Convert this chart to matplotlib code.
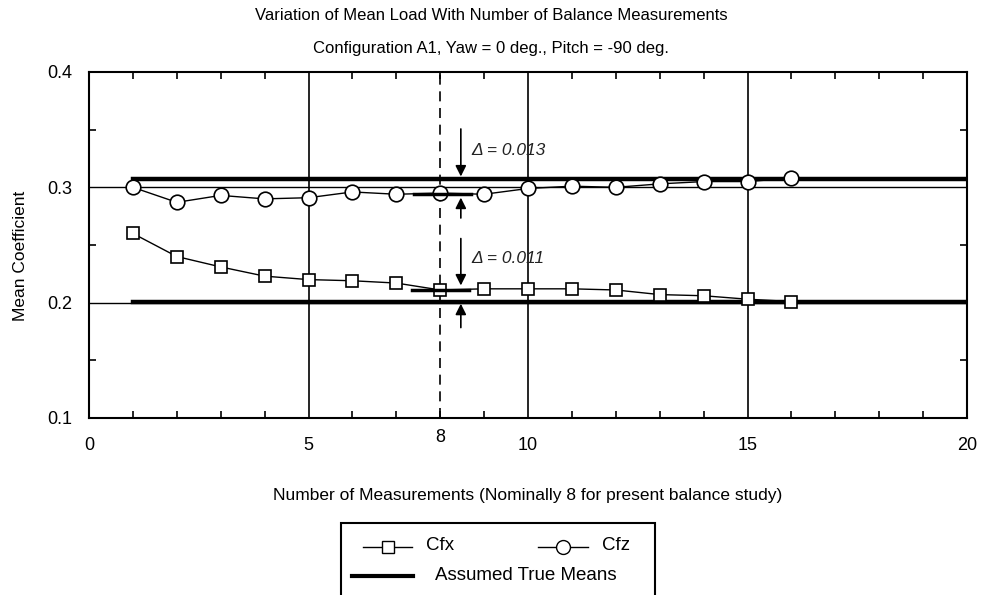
import matplotlib.pyplot as plt
from matplotlib.lines import Line2D
from matplotlib.patches import Rectangle
from matplotlib.ticker import MultipleLocator

# Datos
n_meas = [1, 2, 3, 4, 5, 6, 7, 8, 9, 10, 11, 12, 13, 14, 15, 16]
cfx = [0.260, 0.240, 0.231, 0.223, 0.220, 0.219, 0.217, 0.211,
       0.212, 0.212, 0.212, 0.211, 0.207, 0.206, 0.203, 0.201]
cfz = [0.300, 0.287, 0.293, 0.290, 0.291, 0.296, 0.294, 0.295,
       0.294, 0.299, 0.301, 0.300, 0.303, 0.305, 0.305, 0.308]
true_cfz = 0.307
true_cfx = 0.201
true_x = [1, 20]
nominal_n = 8
x_ticks = [0, 5, 10, 15, 20]
y_ticks = [0.1, 0.2, 0.3, 0.4]

plt.rcParams['font.family'] = ['Liberation Sans', 'DejaVu Sans']

W, H = 982, 595
fig = plt.figure(figsize=(W / 100, H / 100), dpi=100)
ax = fig.add_axes([89 / W, 1 - 418 / H, (967 - 89) / W, (418 - 72) / H])

# lineas de referencia (grid manual)
for xv in [5, 10, 15]:
    ax.axvline(xv, color='black', lw=1.2, zorder=1)
ax.axvline(nominal_n, color='black', lw=1.2, ls=(0, (6, 4)), zorder=1)
for yv in [0.2, 0.3]:
    ax.axhline(yv, color='black', lw=1.0, zorder=1)

# medias verdaderas
ax.plot(true_x, [true_cfz, true_cfz], color='black', lw=3.2, zorder=2)
ax.plot(true_x, [true_cfx, true_cfx], color='black', lw=3.2, zorder=2)

ax.plot(n_meas, cfx, color='black', lw=1.0, marker='s', markersize=8.5,
        markerfacecolor='white', markeredgecolor='black', mew=1.2, zorder=3)
ax.plot(n_meas, cfz, color='black', lw=1.0, marker='o', markersize=10.5,
        markerfacecolor='white', markeredgecolor='black', mew=1.2, zorder=3)

# cotas Delta
ax.plot([7.4, 8.7], [cfz[7] - 0.001, cfz[7] - 0.001], color='black', lw=2.5, zorder=4)
ax.plot([7.35, 8.65], [cfx[7], cfx[7]], color='black', lw=2.5, zorder=4)
arr = dict(arrowstyle='-|>', color='black', lw=1.2, mutation_scale=16)
xa = 8.47
ax.annotate('', xy=(xa, true_cfz), xytext=(xa, 0.353), arrowprops=arr, zorder=5)
ax.annotate('', xy=(xa, 0.2935), xytext=(xa, 0.271), arrowprops=arr, zorder=5)
ax.annotate('', xy=(xa, 0.2125), xytext=(xa, 0.258), arrowprops=arr, zorder=5)
ax.annotate('', xy=(xa, true_cfx + 0.0005), xytext=(xa, 0.176), arrowprops=arr, zorder=5)
ax.text(8.72, 0.332, '\u0394 = 0.013', style='italic', fontsize=12.5,
        va='center', ha='left', color='#222222')
ax.text(8.72, 0.2385, '\u0394 = 0.011', style='italic', fontsize=12.5,
        va='center', ha='left', color='#222222')

ax.set_xlim(0, 20)
ax.set_ylim(0.1, 0.4)
ax.set_xticks(x_ticks)
ax.set_xticklabels([str(t) for t in x_ticks])
ax.set_yticks(y_ticks)
ax.set_yticklabels(['%.1f' % t for t in y_ticks])
ax.xaxis.set_minor_locator(MultipleLocator(1))
ax.yaxis.set_minor_locator(MultipleLocator(0.05))
ax.tick_params(which='both', direction='in', top=True, right=True,
               labelsize=13, width=1.2)
ax.tick_params(which='major', length=0)
ax.tick_params(axis='x', which='major', pad=14)
ax.tick_params(axis='y', which='major', pad=12)
ax.tick_params(which='minor', length=5)
ax.text(nominal_n, -0.032, str(nominal_n), transform=ax.get_xaxis_transform(),
        ha='center', va='top', fontsize=13)
for sp in ax.spines.values():
    sp.set_linewidth(1.5)

ax.set_xlabel('Number of Measurements (Nominally 8 for present balance study)',
              fontsize=12.5, labelpad=24)
ax.set_ylabel('Mean Coefficient', fontsize=12.5, labelpad=18)
ax.yaxis.set_label_coords(-0.07, 0.47)

fig.text(0.5, 1 - 16 / H, 'Variation of Mean Load With Number of Balance Measurements',
         ha='center', va='center', fontsize=12)
fig.text(0.5, 1 - 48 / H, 'Configuration A1, Yaw = 0 deg., Pitch = -90 deg.',
         ha='center', va='center', fontsize=12)


# leyenda dibujada a mano (recortada por el borde inferior)
def fx(px):
    return px / W


def fy(py):
    return 1 - py / H


fig.patches.append(Rectangle((fx(341), fy(600)), fx(655) - fx(341), fy(523) - fy(600),
                             transform=fig.transFigure, fill=False,
                             edgecolor='black', lw=1.5))
fig.lines.append(Line2D([fx(363), fx(412)], [fy(547), fy(547)], color='black', lw=1,
                        transform=fig.transFigure, zorder=1))
fig.lines.append(Line2D([fx(387.5)], [fy(547)], color='black', lw=0,
                        marker='s', markersize=9, markerfacecolor='white',
                        transform=fig.transFigure, zorder=2))
fig.lines.append(Line2D([fx(538), fx(588)], [fy(547), fy(547)], color='black', lw=1,
                        transform=fig.transFigure, zorder=1))
fig.lines.append(Line2D([fx(563)], [fy(547)], color='black', lw=0,
                        marker='o', markersize=10, markerfacecolor='white',
                        transform=fig.transFigure, zorder=2))
fig.lines.append(Line2D([fx(352), fx(413)], [fy(576), fy(576)], color='black', lw=3,
                        transform=fig.transFigure))
fig.text(fx(426), fy(546), 'Cfx', fontsize=13.5, va='center', ha='left')
fig.text(fx(602), fy(546), 'Cfz', fontsize=13.5, va='center', ha='left')
fig.text(fx(435), fy(575), 'Assumed True Means', fontsize=13.5, va='center', ha='left')

fig.savefig('out.png', dpi=100)
